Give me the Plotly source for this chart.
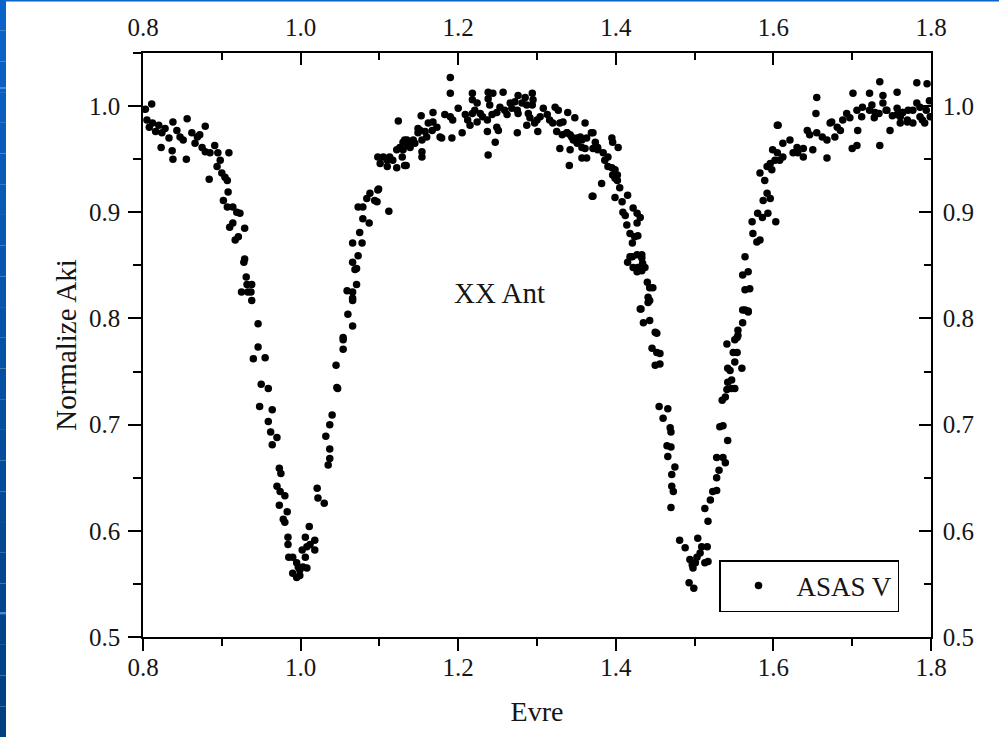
import plotly.graph_objects as go

# ---------------- data ----------------
# out-of-eclipse, descending towards primary minimum
phase_a = [0.803, 0.811, 0.805, 0.808, 0.812, 0.816, 0.820, 0.824, 0.828, 0.823, 0.837, 0.838,
           0.856, 0.855, 0.879, 0.838, 0.847, 0.851, 0.862, 0.869, 0.872, 0.875, 0.879, 0.885,
           0.891, 0.895, 0.898, 0.909, 0.884, 0.894, 0.900, 0.904, 0.907, 0.908, 0.902, 0.907,
           0.914, 0.919, 0.923, 0.910, 0.914, 0.929, 0.917, 0.921, 0.929, 0.833, 0.843, 0.866]
flux_a = [0.997, 1.002, 0.987, 0.980, 0.984, 0.976, 0.982, 0.975, 0.979, 0.961, 0.958, 0.950,
          0.988, 0.950, 0.981, 0.985, 0.971, 0.968, 0.975, 0.971, 0.973, 0.961, 0.957, 0.956,
          0.963, 0.956, 0.949, 0.956, 0.931, 0.943, 0.937, 0.933, 0.930, 0.919, 0.911, 0.905,
          0.905, 0.900, 0.899, 0.886, 0.890, 0.885, 0.874, 0.877, 0.856, 0.970, 0.977, 0.965]

# primary eclipse ingress
phase_b = [0.928, 0.937, 0.946, 0.946, 0.940, 0.955, 0.950, 0.959, 0.948, 0.964, 0.959, 0.962,
           0.970, 0.964, 0.973, 0.975, 0.970, 0.974, 0.980, 0.973, 0.983, 0.978, 0.980, 0.984,
           0.984, 0.985, 0.990, 0.995, 0.997, 0.999, 0.990, 0.995, 0.999, 0.931, 0.932, 0.938,
           0.925, 0.933, 0.938]
flux_b = [0.853, 0.825, 0.795, 0.773, 0.762, 0.763, 0.738, 0.734, 0.717, 0.714, 0.703, 0.693,
          0.688, 0.681, 0.659, 0.654, 0.642, 0.637, 0.633, 0.624, 0.618, 0.611, 0.608, 0.594,
          0.587, 0.575, 0.575, 0.570, 0.566, 0.563, 0.560, 0.556, 0.558, 0.839, 0.832, 0.832,
          0.825, 0.825, 0.817]

# primary eclipse egress
phase_c = [1.003, 1.008, 1.002, 1.006, 1.008, 1.012, 1.011, 1.006, 1.018, 1.018, 1.021, 1.022,
           1.030, 1.035, 1.037, 1.037, 1.032, 1.037, 1.040, 1.046, 1.047, 1.045, 1.054, 1.054,
           1.054, 1.066, 1.060, 1.066, 1.059, 1.066, 1.066, 1.071, 1.071, 1.069, 1.066, 1.073,
           1.066, 1.078, 1.075, 1.079, 1.087, 1.073, 1.079, 1.084, 1.088, 1.094, 1.097, 1.099,
           1.098, 1.112]
flux_c = [0.566, 0.565, 0.582, 0.575, 0.585, 0.587, 0.604, 0.594, 0.591, 0.582, 0.640, 0.631,
          0.626, 0.662, 0.668, 0.677, 0.689, 0.700, 0.709, 0.735, 0.734, 0.756, 0.771, 0.782,
          0.780, 0.793, 0.804, 0.817, 0.826, 0.819, 0.825, 0.832, 0.847, 0.846, 0.853, 0.859,
          0.871, 0.871, 0.881, 0.894, 0.890, 0.905, 0.905, 0.913, 0.918, 0.911, 0.910, 0.922,
          0.921, 0.901]

# maximum
phase_d = [1.098, 1.105, 1.110, 1.113, 1.117, 1.101, 1.110, 1.122, 1.122, 1.126, 1.130, 1.135,
           1.124, 1.134, 1.139, 1.145, 1.149, 1.152, 1.153, 1.154, 1.160, 1.132, 1.136, 1.141,
           1.143, 1.130, 1.129, 1.132, 1.154, 1.154, 1.149, 1.158, 1.162, 1.167, 1.168, 1.173,
           1.177, 1.179, 1.168, 1.183, 1.190, 1.193, 1.192, 1.190, 1.190, 1.200, 1.205, 1.209,
           1.212, 1.218, 1.221, 1.224, 1.218, 1.218, 1.215, 1.224, 1.228, 1.231, 1.238, 1.244,
           1.238, 1.240, 1.237, 1.238, 1.247, 1.249, 1.251, 1.237, 1.243, 1.249, 1.253, 1.257,
           1.259, 1.262, 1.266, 1.268, 1.272, 1.275, 1.276, 1.275, 1.276, 1.281, 1.285, 1.287,
           1.289, 1.291, 1.294, 1.295, 1.294, 1.287, 1.297, 1.300, 1.304, 1.301, 1.308, 1.313,
           1.316, 1.320, 1.323, 1.327, 1.329, 1.333, 1.339, 1.338, 1.342, 1.329, 1.342, 1.346,
           1.351, 1.355, 1.348, 1.361, 1.357, 1.361, 1.357, 1.363, 1.341, 1.371, 1.374, 1.377,
           1.371]
flux_d = [0.952, 0.952, 0.949, 0.952, 0.949, 0.946, 0.943, 0.942, 0.959, 0.961, 0.966, 0.968,
          0.986, 0.944, 0.961, 0.965, 0.975, 0.977, 0.991, 0.952, 0.971, 0.968, 0.963, 0.965,
          0.968, 0.959, 0.952, 0.944, 0.957, 0.968, 0.979, 0.976, 0.984, 0.977, 0.985, 0.980,
          0.971, 0.970, 0.994, 0.992, 0.990, 0.987, 0.970, 1.027, 1.012, 0.998, 0.975, 0.992,
          0.987, 0.993, 0.996, 1.003, 1.012, 1.006, 0.982, 0.985, 0.993, 0.990, 1.013, 1.012,
          1.007, 1.001, 0.976, 0.954, 0.966, 0.980, 0.977, 0.987, 0.992, 0.994, 0.999, 1.013,
          0.996, 0.992, 1.003, 0.998, 1.004, 0.996, 0.993, 0.975, 1.010, 1.003, 1.008, 1.001,
          0.993, 0.989, 1.012, 1.006, 1.001, 0.982, 0.984, 0.987, 0.990, 0.976, 0.998, 0.992,
          0.987, 0.984, 0.999, 0.996, 0.984, 0.985, 0.994, 0.975, 0.973, 0.960, 0.959, 0.968,
          0.965, 0.971, 0.989, 0.984, 0.961, 0.960, 0.951, 0.951, 0.944, 0.975, 0.966, 0.961,
          0.915]

# descending towards secondary minimum
phase_e = [1.325, 1.332, 1.338, 1.344, 1.351, 1.357, 1.363, 1.369, 1.371, 1.377, 1.384, 1.386,
           1.390, 1.395, 1.396, 1.403, 1.390, 1.395, 1.399, 1.402, 1.396, 1.399, 1.402, 1.405,
           1.382, 1.370, 1.399, 1.408, 1.415, 1.409, 1.412, 1.422, 1.427, 1.431, 1.414, 1.427,
           1.418, 1.424, 1.428, 1.421, 1.418, 1.427, 1.433, 1.415, 1.421, 1.433, 1.434, 1.428,
           1.422, 1.427, 1.433, 1.437, 1.440, 1.443, 1.447, 1.441, 1.443, 1.432]
flux_e = [0.976, 0.973, 0.975, 0.971, 0.970, 0.968, 0.970, 0.975, 0.960, 0.959, 0.956, 0.949,
          0.952, 0.970, 0.966, 0.961, 0.943, 0.942, 0.940, 0.935, 0.935, 0.932, 0.930, 0.923,
          0.927, 0.915, 0.914, 0.910, 0.916, 0.900, 0.897, 0.904, 0.899, 0.895, 0.888, 0.890,
          0.880, 0.877, 0.878, 0.871, 0.858, 0.860, 0.860, 0.853, 0.858, 0.857, 0.852, 0.848,
          0.848, 0.844, 0.845, 0.848, 0.834, 0.829, 0.829, 0.820, 0.817, 0.809]

# secondary eclipse ingress
phase_f = [1.441, 1.431, 1.435, 1.443, 1.450, 1.452, 1.446, 1.452, 1.456, 1.450, 1.456, 1.455,
           1.466, 1.460, 1.469, 1.470, 1.465, 1.470, 1.466, 1.475, 1.471, 1.471, 1.473, 1.470,
           1.481, 1.488, 1.494, 1.497, 1.501, 1.498, 1.493, 1.499]
flux_f = [0.815, 0.809, 0.796, 0.798, 0.787, 0.786, 0.772, 0.768, 0.767, 0.756, 0.757, 0.717,
          0.715, 0.706, 0.697, 0.693, 0.680, 0.679, 0.670, 0.660, 0.653, 0.642, 0.637, 0.622,
          0.591, 0.584, 0.573, 0.568, 0.570, 0.565, 0.551, 0.546]

# secondary eclipse egress
phase_g = [1.503, 1.507, 1.513, 1.517, 1.504, 1.509, 1.516, 1.517, 1.513, 1.520, 1.523, 1.528,
           1.528, 1.531, 1.528, 1.536, 1.539, 1.542, 1.532, 1.536, 1.535, 1.539, 1.541, 1.547,
           1.551, 1.542, 1.547, 1.545, 1.542, 1.560, 1.551, 1.549, 1.554, 1.541, 1.551, 1.554,
           1.555, 1.561, 1.564, 1.568, 1.555, 1.561, 1.568, 1.564, 1.570, 1.564, 1.561, 1.568,
           1.574, 1.579, 1.583, 1.573, 1.580, 1.586, 1.593, 1.603, 1.587, 1.592, 1.596, 1.583,
           1.589]
flux_g = [0.575, 0.579, 0.570, 0.571, 0.593, 0.585, 0.585, 0.609, 0.621, 0.629, 0.637, 0.638,
          0.650, 0.657, 0.669, 0.669, 0.664, 0.685, 0.698, 0.699, 0.723, 0.726, 0.733, 0.734,
          0.734, 0.740, 0.742, 0.751, 0.753, 0.753, 0.759, 0.768, 0.768, 0.776, 0.780, 0.782,
          0.789, 0.796, 0.808, 0.806, 0.784, 0.808, 0.807, 0.827, 0.828, 0.858, 0.841, 0.844,
          0.880, 0.872, 0.874, 0.891, 0.899, 0.895, 0.899, 0.891, 0.911, 0.918, 0.913, 0.937,
          0.930]

# out-of-eclipse after secondary minimum
phase_h = [1.592, 1.596, 1.602, 1.598, 1.599, 1.605, 1.612, 1.608, 1.605, 1.606, 1.612, 1.621,
           1.630, 1.631, 1.638, 1.625, 1.643, 1.646, 1.655, 1.662, 1.668, 1.638, 1.650, 1.655,
           1.654, 1.668, 1.672, 1.674, 1.681, 1.678, 1.685, 1.688, 1.693, 1.697, 1.706, 1.713,
           1.712, 1.722, 1.728, 1.734, 1.743, 1.751, 1.757, 1.764, 1.770, 1.777, 1.782, 1.786,
           1.789, 1.794, 1.701, 1.722, 1.739, 1.757, 1.782, 1.795, 1.735, 1.700, 1.706, 1.735,
           1.707, 1.748, 1.761, 1.770, 1.777, 1.792, 1.725, 1.729, 1.739, 1.744, 1.757, 1.761,
           1.764, 1.771, 1.786, 1.798, 1.799]
flux_h = [0.943, 0.946, 0.949, 0.940, 0.959, 0.956, 0.952, 0.949, 0.982, 0.982, 0.965, 0.968,
          0.961, 0.956, 0.952, 0.956, 0.977, 0.973, 0.975, 0.971, 0.968, 0.960, 0.959, 1.008,
          0.993, 0.951, 0.984, 0.985, 0.980, 0.971, 0.977, 0.987, 0.993, 0.989, 0.996, 0.999,
          0.990, 0.996, 0.989, 0.993, 0.996, 0.991, 0.998, 0.994, 0.987, 0.996, 1.003, 0.990,
          0.987, 0.996, 1.012, 1.012, 1.010, 1.013, 1.022, 1.021, 1.023, 0.960, 0.963, 0.963,
          0.977, 0.977, 0.984, 0.985, 0.984, 0.984, 1.001, 0.994, 1.003, 0.996, 0.992, 0.990,
          0.994, 0.996, 0.999, 1.005, 0.990]

x_ticks = [0.8, 1.0, 1.2, 1.4, 1.6, 1.8]
y_ticks = [0.5, 0.6, 0.7, 0.8, 0.9, 1.0]
x_tick_text = ["0.8", "1.0", "1.2", "1.4", "1.6", "1.8"]
y_tick_text = ["0.5", "0.6", "0.7", "0.8", "0.9", "1.0"]

phase = phase_a + phase_b + phase_c + phase_d + phase_e + phase_f + phase_g + phase_h
flux = flux_a + flux_b + flux_c + flux_d + flux_e + flux_f + flux_g + flux_h

# ---------------- figure ----------------
W, H = 999, 737
ML, MR, MT, MB = 143, 68, 53, 100
PW, PH = W - ML - MR, H - MT - MB

def pxx(p):
    return (p - ML) / PW

def pxy(p):
    return (H - MB - p) / PH

FONT = "Liberation Serif, Times New Roman, serif"
TXT = "#151515"

fig = go.Figure()
fig.add_trace(go.Scatter(
    x=phase, y=flux, mode="markers", name="ASAS V",
    marker=dict(color="black", size=7.5, line=dict(width=0)),
))
fig.add_trace(go.Scatter(x=[], y=[], xaxis="x2", yaxis="y2", showlegend=False,
                         hoverinfo="skip", mode="markers"))

common_axis = dict(showgrid=False, zeroline=False, showline=True, linecolor="black",
                   linewidth=1.6, tickcolor="black", tickwidth=1.5,
                   tickfont=dict(family=FONT, size=25, color=TXT))

fig.update_layout(
    width=W, height=H, autosize=False,
    margin=dict(l=ML, r=MR, t=MT, b=MB, pad=0),
    paper_bgcolor="white", plot_bgcolor="white",
    font=dict(family=FONT, color=TXT, size=25),
    xaxis=dict(range=[0.8, 1.8], tickvals=x_ticks, ticktext=x_tick_text,
               ticks="outside", ticklen=12, ticklabelstandoff=-5,
               minor=dict(tickvals=[0.9, 1.1, 1.3, 1.5, 1.7], ticks="outside", ticklen=7,
                          tickwidth=1.5, tickcolor="black", showgrid=False),
               title=dict(text="Evre", font=dict(family=FONT, size=28, color=TXT), standoff=22),
               **common_axis),
    yaxis=dict(range=[0.5, 1.05], tickvals=y_ticks, ticktext=y_tick_text,
               ticks="outside", ticklen=13, ticklabelstandoff=3,
               minor=dict(tickvals=[0.55, 0.65, 0.75, 0.85, 0.95, 1.05], ticks="outside",
                          ticklen=8, tickwidth=1.5, tickcolor="black", showgrid=False),
               title=dict(text="Normalize Aki", font=dict(family=FONT, size=29, color=TXT),
                          standoff=4),
               **common_axis),
    xaxis2=dict(range=[0.8, 1.8], overlaying="x", side="top", anchor="y2",
                tickvals=x_ticks, ticktext=x_tick_text,
                ticks="inside", ticklen=12, ticklabelstandoff=5,
                minor=dict(tickvals=[0.9, 1.1, 1.3, 1.5, 1.7], ticks="inside", ticklen=7,
                           tickwidth=1.5, tickcolor="black", showgrid=False),
                **common_axis),
    yaxis2=dict(range=[0.5, 1.05], overlaying="y", side="right", anchor="x2",
                tickvals=y_ticks, ticktext=y_tick_text,
                ticks="inside", ticklen=12, ticklabelstandoff=5,
                minor=dict(tickvals=[0.55, 0.65, 0.75, 0.85, 0.95, 1.05], ticks="inside",
                           ticklen=7, tickwidth=1.5, tickcolor="black", showgrid=False),
                **common_axis),
    showlegend=True,
    legend=dict(x=pxx(719), y=pxy(560), xanchor="left", yanchor="top",
                bgcolor="white", bordercolor="black", borderwidth=1.5,
                font=dict(family=FONT, size=27, color=TXT), itemwidth=66),
    annotations=[dict(x=1.253, y=0.824, xref="x", yref="y", text="XX Ant", showarrow=False,
                      font=dict(family=FONT, size=29, color=TXT))],
)

# blue slide edge on the left (vertical gradient) and thin line on top
shapes = []
n = 24
top_rgb = (12, 98, 200)
bot_rgb = (0, 64, 128)
for i in range(n):
    f = i / (n - 1)
    c = tuple(round(top_rgb[k] + (bot_rgb[k] - top_rgb[k]) * f) for k in range(3))
    y0 = H * i / n
    y1 = H * (i + 1) / n
    shapes.append(dict(type="rect", xref="paper", yref="paper",
                       x0=pxx(0), x1=pxx(6), y0=pxy(y1), y1=pxy(y0),
                       fillcolor="rgb(%d,%d,%d)" % c, line=dict(width=0), layer="above"))
shapes.append(dict(type="rect", xref="paper", yref="paper", x0=pxx(0), x1=pxx(W),
                   y0=pxy(1.5), y1=pxy(0), fillcolor="rgb(12,98,200)", line=dict(width=0)))
for yy in (88, 613):
    shapes.append(dict(type="rect", xref="paper", yref="paper", x0=pxx(0), x1=pxx(6),
                       y0=pxy(yy + 1), y1=pxy(yy - 1), fillcolor="rgb(60,140,225)",
                       line=dict(width=0)))
fig.update_layout(shapes=shapes)

fig.write_html("out.html", config={"displayModeBar": False},
               post_script="document.body.style.margin='0';document.body.style.overflow='hidden';")
